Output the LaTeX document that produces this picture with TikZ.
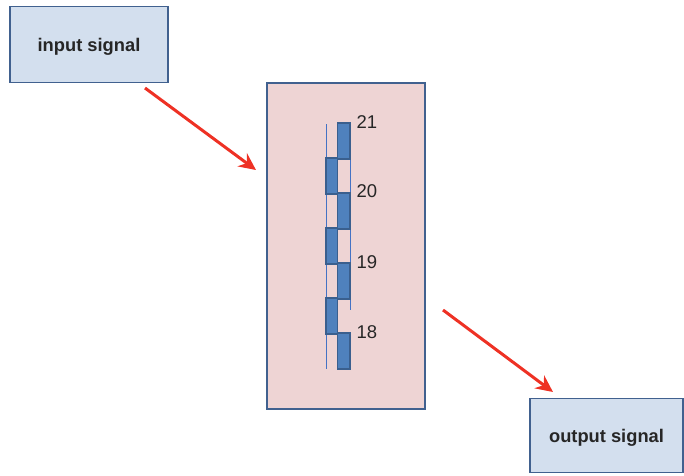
\documentclass[tikz,border=0pt]{standalone}
\usepackage{fontspec}
\setmainfont{Liberation Sans}
\usetikzlibrary{arrows.meta}
\definecolor{boxfill}{HTML}{D3DFEE}
\definecolor{boxdraw}{HTML}{41618F}
\definecolor{midfill}{HTML}{EED4D4}
\definecolor{barfill}{HTML}{4F81BD}
\definecolor{bardraw}{HTML}{3A5F8E}
\definecolor{thin}{HTML}{4472C4}
\definecolor{arr}{HTML}{EE3124}
\tikzset{
  sigbox/.style={draw=boxdraw, line width=1.5pt, fill=boxfill, font=\fontsize{18.3}{20}\selectfont\bfseries, text=black!85, text depth=0pt},
  bar/.style={draw=bardraw, line width=1.3pt, fill=barfill},
  thinline/.style={draw=thin, line width=1pt},
  redarrow/.style={draw=arr, line width=3pt, -{Stealth[length=17pt,width=16pt]}},
  num/.style={anchor=west, font=\fontsize{18.5}{20}\selectfont, text=black!85, inner sep=0pt}
}
\begin{document}
\begin{tikzpicture}[x=1pt,y=-1pt]
\useasboundingbox (0,0) rectangle (684,475);
\node[sigbox, minimum width=158pt, minimum height=76pt] (in) at (89,44.5) {input signal};
\node[sigbox, minimum width=153pt, minimum height=74pt] (out) at (606.5,435.5) {output signal};
\node[draw=boxdraw, line width=1.5pt, fill=midfill, minimum width=158pt, minimum height=326pt] (mid) at (346,246) {};
% thin lines
\draw[thinline] (326.7,124) -- (326.7,369);
\draw[thinline] (350,159) -- (350,310);
% right bars
\foreach \y/\n in {123/r1,193/r2,263/r3,333/r4}
  \draw[bar] (337.5,\y) rectangle (350,\y+36);
% left bars
\foreach \y/\n in {158/l1,228/l2,298/l3}
  \draw[bar] (326,\y) rectangle (337.5,\y+36);
\node[num] (n21) at (356.5,122) {21};
\node[num] (n20) at (356.5,191.5) {20};
\node[num] (n19) at (356.5,262) {19};
\node[num] (n18) at (356.5,332) {18};
\coordinate (a1s) at (145,88);
\coordinate (a1e) at (256,170);
\coordinate (a2s) at (443,310);
\coordinate (a2e) at (553,392);
\draw[redarrow] (a1s) -- (a1e);
\draw[redarrow] (a2s) -- (a2e);
\end{tikzpicture}
\end{document}
